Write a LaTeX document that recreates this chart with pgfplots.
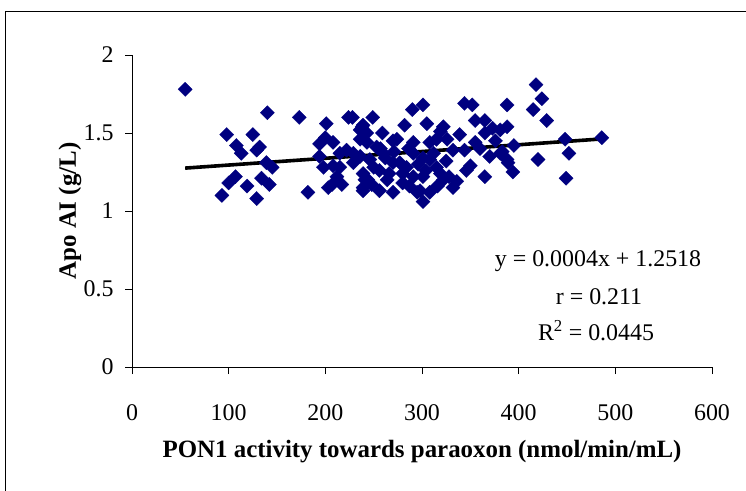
\documentclass[border=0pt]{standalone}
\usepackage{pgfplots}
\pgfplotsset{compat=1.18}
\usepackage{fontspec}
\setmainfont{Liberation Serif}
\definecolor{navy}{RGB}{0,0,128}
\pgfplotstableread{
x y
55 1.78
93 1.10
98 1.49
100 1.18
107 1.22
108 1.42
113 1.37
119 1.16
125 1.49
129 1.08
129 1.39
132 1.41
134 1.21
139 1.31
140 1.63
142 1.17
145 1.28
173 1.60
182 1.12
194 1.43
194 1.35
198 1.28
200 1.47
201 1.56
203 1.15
207 1.17
208 1.44
208 1.29
212 1.22
215 1.37
215 1.28
217 1.17
224 1.60
228 1.60
229 1.37
236 1.46
236 1.52
236 1.35
238 1.54
239 1.55
239 1.15
239 1.13
241 1.20
243 1.50
243 1.44
244 1.20
246 1.33
249 1.60
253 1.41
256 1.13
256 1.26
259 1.50
260 1.37
270 1.45
270 1.12
270 1.31
280 1.24
282 1.55
284 1.28
290 1.65
291 1.37
295 1.12
301 1.68
301 1.06
301 1.22
301 1.34
305 1.56
308 1.12
308 1.44
315 1.46
315 1.28
319 1.51
322 1.54
322 1.20
326 1.46
332 1.15
332 1.39
336 1.19
339 1.49
344 1.69
344 1.39
350 1.29
352 1.68
355 1.58
355 1.44
365 1.58
365 1.50
365 1.22
373 1.53
381 1.52
381 1.37
383 1.38
388 1.68
388 1.54
388 1.33
389 1.31
394 1.25
415 1.65
418 1.81
420 1.33
424 1.72
429 1.58
448 1.46
449 1.21
452 1.37
486 1.47
222 1.39
239 1.24
264 1.20
277 1.31
280 1.18
291 1.22
298 1.13
308 1.33
319 1.24
346 1.26
291 1.44
274 1.46
229 1.31
250 1.28
262 1.34
286 1.40
296 1.30
312 1.37
325 1.32
360 1.40
370 1.35
376 1.45
395 1.42
248 1.17
266 1.24
287 1.16
304 1.26
316 1.16
328 1.22
257 1.40
271 1.38
}\datatable
\begin{document}
\begin{tikzpicture}
\path[use as bounding box] (0bp,0bp) rectangle (746bp,-491bp);
\draw[line width=1bp] (5bp,-491bp) -- (5bp,-11bp) -- (746bp,-11bp);
\begin{axis}[
  at={(132bp,-367bp)}, anchor=south west,
  scale only axis, width=580bp, height=312bp,
  xmin=0, xmax=600, ymin=0, ymax=2,
  axis x line*=bottom, axis y line*=left,
  axis line style={-, line width=1bp, black},
  xtick={0,100,...,600}, ytick={0,0.5,1,1.5,2},
  tick align=outside, major tick length=7bp,
  tick style={black, line width=1bp},
  /pgf/number format/assume math mode=true,
  ticklabel style={font=\fontsize{24}{28}\selectfont},
  xticklabel style={yshift=-27bp},
  yticklabel style={xshift=-8bp},
  clip=false,
]
\addplot[only marks, mark=square*, mark size=5bp,
  mark options={rotate=45, fill=navy, draw=navy, line width=0.3bp}]
  table[x=x, y=y] {\datatable};
\addplot[black, line width=3.6bp] coordinates {(55,1.275) (486,1.462)};
\end{axis}
\node[font=\fontsize{24}{28}\selectfont] at (598bp,-261bp) {y = 0.0004x + 1.2518};
\node[font=\fontsize{24}{28}\selectfont] at (599bp,-297bp) {r = 0.211};
\node[font=\fontsize{24}{28}\selectfont] at (596bp,-331bp) {R\textsuperscript{2} = 0.0445};
\node[font=\bfseries\fontsize{25}{30}\selectfont] at (422bp,-452bp) {PON1 activity towards paraoxon (nmol/min/mL)};
\node[font=\bfseries\fontsize{25}{30}\selectfont, rotate=90] at (70bp,-211bp) {Apo AI (g/L)};
\end{tikzpicture}
\end{document}
